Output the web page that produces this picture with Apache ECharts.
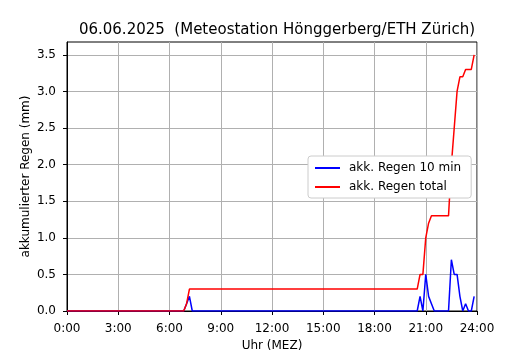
<!DOCTYPE html>
<html>
<head>
<meta charset="utf-8">
<script src="https://cdn.jsdelivr.net/npm/echarts@6/dist/echarts.min.js"></script>
<style>
  html, body { margin: 0; padding: 0; background: #fff; }
  #main { width: 530px; height: 350px; }
</style>
</head>
<body>
<div id="main"></div>
<script>
// 10-min rain values (mm), one row per hour, 0:00 .. 23:50
var rain10 = [
  0,0,0,0,0,0,  0,0,0,0,0,0,  0,0,0,0,0,0,  0,0,0,0,0,0,   // 0-3h
  0,0,0,0,0,0,  0,0,0,0,0,0,  0,0,0,0,0,0,                 // 4-6h
  0.1,0.2,0,0,0,0,                                          // 7h
  0,0,0,0,0,0,  0,0,0,0,0,0,  0,0,0,0,0,0,  0,0,0,0,0,0,   // 8-11h
  0,0,0,0,0,0,  0,0,0,0,0,0,  0,0,0,0,0,0,  0,0,0,0,0,0,   // 12-15h
  0,0,0,0,0,0,  0,0,0,0,0,0,  0,0,0,0,0,0,  0,0,0,0,0,0,   // 16-19h
  0,0,0,0,0.2,0,                                            // 20h
  0.5,0.2,0.1,0,0,0,                                        // 21h
  0,0,0,0.7,0.5,0.5,                                        // 22h
  0.2,0,0.1,0,0,0.2                                         // 23h
];

// accumulated rain total (mm)
var rainTotal = [
  0,0,0,0,0,0,  0,0,0,0,0,0,  0,0,0,0,0,0,  0,0,0,0,0,0,
  0,0,0,0,0,0,  0,0,0,0,0,0,  0,0,0,0,0,0,
  0.1,0.3,0.3,0.3,0.3,0.3,
  0.3,0.3,0.3,0.3,0.3,0.3,  0.3,0.3,0.3,0.3,0.3,0.3,  0.3,0.3,0.3,0.3,0.3,0.3,  0.3,0.3,0.3,0.3,0.3,0.3,
  0.3,0.3,0.3,0.3,0.3,0.3,  0.3,0.3,0.3,0.3,0.3,0.3,  0.3,0.3,0.3,0.3,0.3,0.3,  0.3,0.3,0.3,0.3,0.3,0.3,
  0.3,0.3,0.3,0.3,0.3,0.3,  0.3,0.3,0.3,0.3,0.3,0.3,  0.3,0.3,0.3,0.3,0.3,0.3,  0.3,0.3,0.3,0.3,0.3,0.3,
  0.3,0.3,0.3,0.3,0.5,0.5,
  1.0,1.2,1.3,1.3,1.3,1.3,
  1.3,1.3,1.3,2.0,2.5,3.0,
  3.2,3.2,3.3,3.3,3.3,3.5
];

var seriesNames = ['akk. Regen 10 min', 'akk. Regen total'];
var yTicks = [0, 0.5, 1.0, 1.5, 2.0, 2.5, 3.0, 3.5];
var xTickLabels = ['0:00', '3:00', '6:00', '9:00', '12:00', '15:00', '18:00', '21:00', '24:00'];

// minute of day for each 10-min sample
function pairs(vals) {
  return vals.map(function (v, i) { return [i * 10, v]; });
}

var font = 'DejaVu Sans';
var myChart = echarts.init(document.getElementById('main'));

myChart.setOption({
  animation: false,
  textStyle: { fontFamily: font },
  title: {
    text: '06.06.2025  (Meteostation Hönggerberg/ETH Zürich)',
    left: 272,
    textAlign: 'center',
    top: 18,
    textStyle: { fontFamily: font, fontSize: 15, fontWeight: 'normal', color: '#000' }
  },
  grid: {
    left: 67, right: 53, top: 42, bottom: 39,
    outerBoundsMode: 'none',
    show: true, borderColor: '#000', borderWidth: 1
  },
  legend: {
    orient: 'vertical',
    left: 308,
    top: 156,
    data: seriesNames,
    itemWidth: 25,
    itemHeight: 14,
    itemGap: 7,
    padding: [6, 10, 5, 6],
    backgroundColor: '#fff',
    borderColor: '#cccccc',
    borderWidth: 1,
    borderRadius: 3,
    itemStyle: { opacity: 0 },
    textStyle: { fontFamily: font, fontSize: 12, color: '#000', padding: [0, 0, 0, 4] }
  },
  xAxis: {
    type: 'value',
    min: 0,
    max: 1440,
    interval: 180,
    name: 'Uhr (MEZ)',
    nameLocation: 'middle',
    nameGap: 26,
    nameTextStyle: { fontFamily: font, fontSize: 12, color: '#000' },
    axisLine: { show: true, lineStyle: { color: '#000' } },
    axisTick: { show: true, length: 4, lineStyle: { color: '#000' } },
    axisLabel: {
      color: '#000', fontFamily: font, fontSize: 12, margin: 12,
      formatter: function (v) { return xTickLabels[v / 180]; }
    },
    splitLine: { show: true, lineStyle: { color: '#b0b0b0', width: 1 } }
  },
  yAxis: {
    type: 'value',
    min: 0,
    max: 3.675,
    interval: 0.5,
    name: 'akkumulierter Regen (mm)',
    nameLocation: 'middle',
    nameGap: 35,
    nameMoveOverlap: false,
    nameTextStyle: { fontFamily: font, fontSize: 12, color: '#000' },
    axisLine: { show: true, lineStyle: { color: '#000' } },
    axisTick: { show: true, length: 4, customValues: yTicks, lineStyle: { color: '#000' } },
    axisLabel: {
      color: '#000', fontFamily: font, fontSize: 12, margin: 11,
      customValues: yTicks,
      formatter: function (v) { return v.toFixed(1); }
    },
    splitLine: { show: true, lineStyle: { color: '#b0b0b0', width: 1 } }
  },
  series: [{
    name: seriesNames[0],
    type: 'line',
    symbol: 'none',
    data: pairs(rain10),
    lineStyle: { color: '#0000ff', width: 1.5 },
    itemStyle: { color: '#0000ff' }
  }, {
    name: seriesNames[1],
    type: 'line',
    symbol: 'none',
    data: pairs(rainTotal),
    lineStyle: { color: '#ff0000', width: 1.5 },
    itemStyle: { color: '#ff0000' }
  }]
});
</script>
</body>
</html>
